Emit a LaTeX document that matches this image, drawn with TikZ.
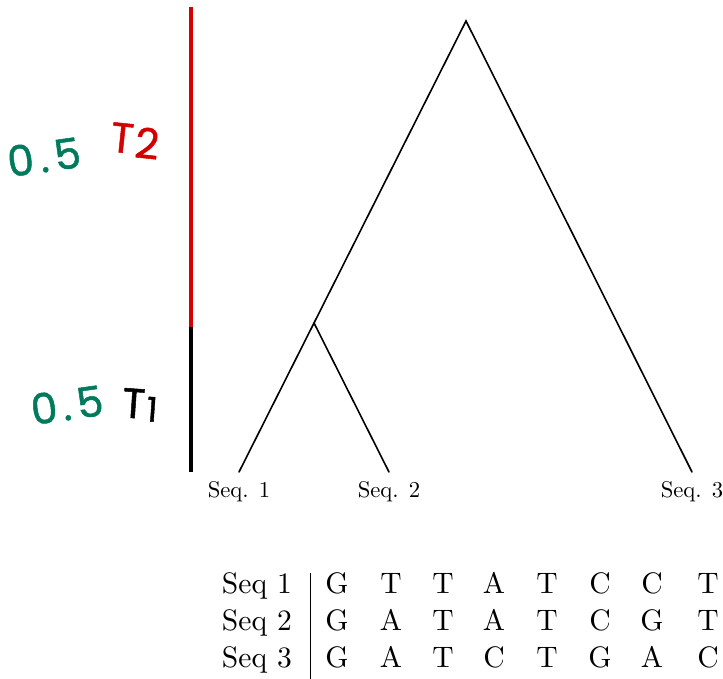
\documentclass[tikz,border=0pt]{standalone}
\usepackage{fontspec}
\usepackage{graphicx}
\newfontfamily\handfont{Poppins}[FakeBold=1.2]
\definecolor{hgreen}{HTML}{007A5C}
\definecolor{hred}{HTML}{D40000}
\newcommand\tabtxt[1]{\scalebox{2.96}{#1}}
\newcommand\leaftxt[1]{\scalebox{2.27}{#1}}
\begin{document}
\begin{tikzpicture}[x=1pt,y=-1pt,
  branch/.style={line width=1.6pt, line cap=round},
  bar/.style={line width=3.6pt},
  leaflabel/.style={font=\fontsize{10}{12}\selectfont, anchor=base, inner sep=0pt},
  rowlabel/.style={font=\fontsize{10}{12}\selectfont, anchor=base east, inner sep=0pt},
  cell/.style={font=\fontsize{10}{12}\selectfont, anchor=base, inner sep=0pt},
  hand/.style={font=\handfont\fontsize{42}{46}\selectfont, inner sep=0pt}]
\useasboundingbox (0,0) rectangle (723,679);
% time bar
\coordinate (btop) at (191,7);
\coordinate (bmid) at (191,327);
\coordinate (bbot) at (191,472);
\draw[bar, hred] (btop) -- (bmid);
\draw[bar, black] (bmid) -- (bbot);
% handwritten labels
\node[hand, text=hgreen, rotate=8] (h1) at (44,157) {0\kern6pt.\kern6pt5};
\node[hand, text=hred, rotate=-6] (t2) at (135,141) {T\kern2pt\raisebox{-0.15ex}{2}};
\node[hand, text=hgreen, rotate=8] (h2) at (67,405) {0\kern5pt.\kern6pt5};
\node[hand, text=black, rotate=-4] (t1) at (140,405) {T\kern2pt\raisebox{-0.1ex}{\fontsize{34}{34}\selectfont 1}};
% tree
\coordinate (r) at (466,21);
\coordinate (i) at (314,323);
\coordinate (l1) at (239,472);
\coordinate (l2) at (389,472);
\coordinate (l3) at (692,472);
\draw[branch] (l1) -- (i) -- (r) -- (l3);
\draw[branch] (i) -- (l2);
\node[leaflabel] (s1) at (239,497) {\leaftxt{Seq. 1}};
\node[leaflabel] (s2) at (389,497) {\leaftxt{Seq. 2}};
\node[leaflabel] (s3) at (692,497) {\leaftxt{Seq. 3}};
% alignment table
\coordinate (vtop) at (310,573);
\coordinate (vbot) at (310,679);
\draw[line width=1pt] (vtop) -- (vbot);
\node[rowlabel] (row1) at (292,593) {\tabtxt{Seq 1}};
\node[rowlabel] (row2) at (292,630) {\tabtxt{Seq 2}};
\node[rowlabel] (row3) at (292,667) {\tabtxt{Seq 3}};
\foreach \ch/\x [count=\c] in {G/337,T/391,T/443,A/494,T/547,C/600,C/652,T/708} \node[cell] (a\c) at (\x,593) {\tabtxt{\ch}};
\foreach \ch/\x [count=\c] in {G/337,A/391,T/443,A/494,T/547,C/600,G/652,T/708} \node[cell] (b\c) at (\x,630) {\tabtxt{\ch}};
\foreach \ch/\x [count=\c] in {G/337,A/391,T/443,C/494,T/547,G/600,A/652,C/708} \node[cell] (c\c) at (\x,667) {\tabtxt{\ch}};
\end{tikzpicture}
\end{document}
